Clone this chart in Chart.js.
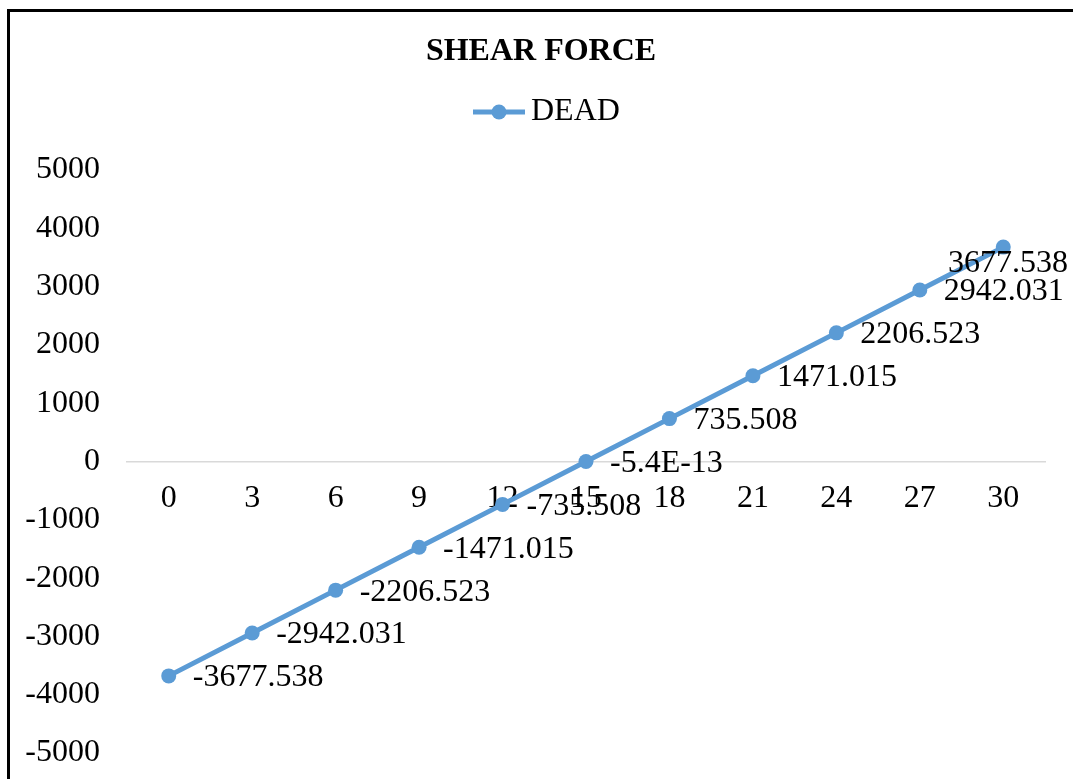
<!DOCTYPE html>
<html>
<head>
<meta charset="utf-8">
<script src="https://cdn.jsdelivr.net/npm/chart.js@4.4.1/dist/chart.umd.min.js"></script>
<style>
  html, body { margin: 0; padding: 0; background: #fff; overflow: hidden; }
  #frame { position: absolute; left: 7px; top: 9px; width: 2000px; height: 2000px; border: 3px solid #000; }
  #shearChart { position: absolute; left: 0; top: 0; }
</style>
</head>
<body>
<div id="frame"></div>
<canvas id="shearChart" width="1073" height="779"></canvas>
<script>
// posicoes ao longo da viga
var positions = ['0', '3', '6', '9', '12', '15', '18', '21', '24', '27', '30'];

// esforco cortante - carga permanente
var deadValues = [-3677.538, -2942.031, -2206.523, -1471.015, -735.508, -5.4e-13,
  735.508, 1471.015, 2206.523, 2942.031, 3677.538];

var yMin = -5000;
var yMax = 5000;
var yStep = 1000;

var chartTitle = 'SHEAR FORCE';
var seriesName = 'DEAD';

var blue = '#5B9BD5';
var serif = "'Liberation Serif', 'Times New Roman', serif";

Chart.defaults.color = '#000';
Chart.defaults.font.family = serif;
Chart.defaults.font.size = 32;

function fmtLabel(v) {
  if (v !== 0 && Math.abs(v) < 1e-6) return v.toExponential(1).toUpperCase();
  return String(v);
}

// rotulos de dados, titulo e legenda
var extras = {
  id: 'extras',
  afterDatasetsDraw: function(chart) {
    var ctx = chart.ctx;
    var meta = chart.getDatasetMeta(0);
    ctx.save();
    ctx.font = '32px ' + serif;
    ctx.fillStyle = '#000';
    ctx.textAlign = 'left';
    ctx.textBaseline = 'middle';
    meta.data.forEach(function(pt, i) {
      var txt = fmtLabel(chart.data.datasets[0].data[i]);
      var w = ctx.measureText(txt).width;
      var x = pt.x + 24;
      var y = pt.y + 2;
      if (x + w > 1068) { x = 1068 - w; y = pt.y + 16; }
      ctx.fillText(txt, x, y);
    });

    ctx.textAlign = 'center';
    ctx.textBaseline = 'alphabetic';
    ctx.font = 'bold 32px ' + serif;
    ctx.fillText(chartTitle, 541, 60);

    ctx.strokeStyle = blue;
    ctx.lineWidth = 5;
    ctx.beginPath();
    ctx.moveTo(473, 112);
    ctx.lineTo(525, 112);
    ctx.stroke();
    ctx.fillStyle = blue;
    ctx.beginPath();
    ctx.arc(499, 112, 7.5, 0, Math.PI * 2);
    ctx.fill();
    ctx.fillStyle = '#000';
    ctx.textAlign = 'left';
    ctx.font = '32px ' + serif;
    ctx.fillText(seriesName, 531, 120);
    ctx.restore();
  }
};

var ctx = document.getElementById('shearChart').getContext('2d');

var shearChart = new Chart(ctx, {
  type: 'line',
  data: {
    labels: positions,
    datasets: [{
      label: seriesName,
      data: deadValues,
      borderColor: blue,
      backgroundColor: blue,
      borderWidth: 5,
      pointRadius: 7.5,
      pointHoverRadius: 7.5,
      pointBackgroundColor: blue,
      pointBorderWidth: 0,
      tension: 0
    }]
  },
  options: {
    responsive: false,
    animation: false,
    layout: {
      padding: { top: 170, left: 10, right: 28, bottom: 26 }
    },
    plugins: {
      legend: { display: false },
      title: { display: false },
      tooltip: { enabled: false }
    },
    scales: {
      x: {
        type: 'category',
        offset: true,
        position: { y: 0 },
        grid: { display: false, drawTicks: false, tickLength: 0 },
        border: { display: true, color: '#d9d9d9', width: 1.5 },
        ticks: { padding: 18, maxRotation: 0, autoSkip: false },
        afterFit: function(scale) { scale.height = 0; }
      },
      y: {
        min: yMin,
        max: yMax,
        grid: { display: false, drawTicks: false, tickLength: 0 },
        border: { display: false },
        ticks: {
          stepSize: yStep,
          padding: 27,
          callback: function(v) { return String(v); }
        },
        afterFit: function(scale) {
          scale.width = 117;
          // a folga dos rotulos nao deve empurrar a area do grafico
          scale.paddingTop = 0;
          scale.paddingBottom = 0;
        }
      }
    }
  },
  plugins: [extras]
});
</script>
</body>
</html>
